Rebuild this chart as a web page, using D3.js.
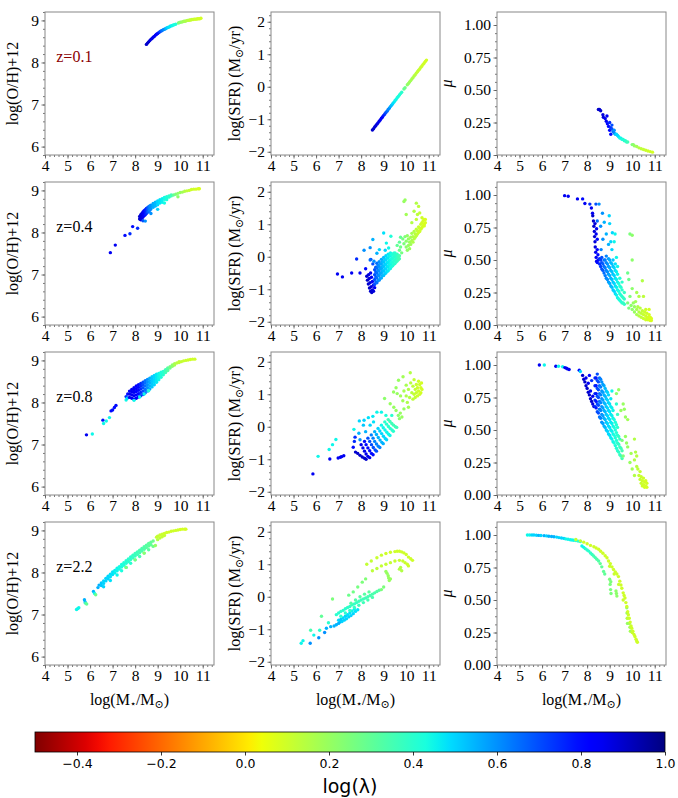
<!DOCTYPE html>
<html>
<head>
<meta charset="utf-8">
<script src="https://cdn.jsdelivr.net/npm/d3@7"></script>
<style>
  body { margin: 0; background: #fff; }
  svg text { font-family: "Liberation Serif", "Times New Roman", Times, "DejaVu Serif", serif !important; }
  svg text.sans { font-family: "DejaVu Sans", "Liberation Sans", sans-serif !important; }
</style>
</head>
<body>
<svg id="fig" width="678" height="798"></svg>
<script>
(function() {

  // ---------------------------BEGIN: data---------------------------//
  var massTicks = [4, 5, 6, 7, 8, 9, 10, 11];
  var ohTicks = [6, 7, 8, 9];
  var sfrTicks = [-2, -1, 0, 1, 2];
  var muTicks = [0, 0.25, 0.5, 0.75, 1.0];
  var lambdaTicks = [-0.4, -0.2, 0.0, 0.2, 0.4, 0.6, 0.8, 1.0];
  var zLabels = ["z=0.1", "z=0.4", "z=0.8", "z=2.2"];

  // each entry: [log M*, value (or list of values at that mass), log lambda]
  var ohZ01 = [
    [8.50,8.43,0.9],[8.55,8.46,0.9],[8.60,8.49,0.9],[8.65,8.52,0.88],[8.70,8.55,0.88],[8.75,8.57,0.86],
    [8.80,8.60,0.86],[8.85,8.62,0.85],[8.90,8.65,0.85],[8.95,8.67,0.82],[9.00,8.69,0.8],[9.05,8.71,0.78],
    [9.10,8.73,0.72],[9.15,8.75,0.68],[9.20,8.76,0.65],[9.25,8.78,0.62],[9.30,8.79,0.6],[9.35,8.80,0.56],
    [9.40,8.82,0.52],[9.45,8.83,0.5],[9.50,8.84,0.48],[9.55,8.86,0.47],[9.60,8.87,0.46],[9.65,8.88,0.45],
    [9.70,8.89,0.44],[9.75,8.90,0.43],[9.80,8.91,0.42],[9.92,8.94,0.26],[9.97,8.95,0.24],[10.02,8.96,0.22],
    [10.07,8.96,0.2],[10.12,8.97,0.19],[10.17,8.98,0.18],[10.22,8.98,0.17],[10.27,8.99,0.16],[10.32,9.00,0.15],
    [10.37,9.00,0.14],[10.42,9.01,0.13],[10.47,9.01,0.12],[10.52,9.02,0.12],[10.57,9.02,0.11],[10.62,9.03,0.11],
    [10.67,9.03,0.1],[10.72,9.03,0.1],[10.77,9.04,0.1],[10.82,9.04,0.09],[10.87,9.04,0.09],[10.92,9.05,0.09]
  ];
  var sfrZ01 = [
    [8.50,-1.33,0.9],[8.55,-1.29,0.9],[8.60,-1.24,0.9],[8.65,-1.20,0.88],[8.70,-1.15,0.88],[8.75,-1.11,0.86],
    [8.80,-1.06,0.86],[8.85,-1.02,0.85],[8.90,-0.97,0.84],[8.95,-0.93,0.82],[9.00,-0.88,0.78],[9.05,-0.84,0.74],
    [9.10,-0.79,0.7],[9.15,-0.75,0.66],[9.20,-0.70,0.62],[9.25,-0.66,0.6],[9.30,-0.61,0.56],[9.35,-0.57,0.53],
    [9.40,-0.52,0.5],[9.45,-0.48,0.48],[9.50,-0.43,0.46],[9.55,-0.39,0.45],[9.60,-0.34,0.44],[9.65,-0.30,0.43],
    [9.70,-0.25,0.42],[9.75,-0.21,0.41],[9.80,-0.17,0.4],[9.90,-0.07,0.3],[9.95,-0.03,0.27],[10.05,0.06,0.22],
    [10.10,0.10,0.2],[10.15,0.15,0.19],[10.20,0.19,0.18],[10.25,0.24,0.17],[10.30,0.28,0.16],[10.35,0.33,0.15],
    [10.40,0.37,0.14],[10.45,0.42,0.13],[10.50,0.46,0.12],[10.55,0.51,0.12],[10.60,0.55,0.11],[10.65,0.60,0.11],
    [10.70,0.64,0.1],[10.75,0.69,0.1],[10.80,0.73,0.1],[10.85,0.78,0.09],[10.90,0.82,0.09]
  ];
  var muZ01 = [
    [8.50,0.35,0.9],[8.55,0.35,0.9],[8.60,0.34,0.9],[8.70,0.31,0.88],[8.72,0.29,0.88],[8.80,0.28,0.85],
    [8.85,0.26,0.85],[8.88,0.30,0.85],[8.90,0.24,0.8],[8.95,0.22,0.8],[9.00,0.25,0.75],[9.00,0.19,0.8],
    [9.05,0.21,0.75],[9.05,0.16,0.8],[9.10,0.20,0.7],[9.10,0.23,0.7],[9.15,0.18,0.65],[9.20,0.19,0.6],
    [9.20,0.17,0.62],[9.25,0.16,0.55],[9.30,0.16,0.5],[9.35,0.15,0.5],[9.40,0.14,0.48],[9.45,0.13,0.45],
    [9.50,0.13,0.45],[9.55,0.12,0.42],[9.60,0.12,0.42],[9.65,0.11,0.4],[9.70,0.11,0.4],[9.75,0.10,0.38],
    [9.80,0.10,0.36],[10.00,0.08,0.25],[10.05,0.08,0.22],[10.10,0.07,0.2],[10.20,0.065,0.18],[10.30,0.055,0.15],
    [10.40,0.048,0.13],[10.50,0.042,0.12],[10.60,0.036,0.11],[10.70,0.031,0.1],[10.80,0.026,0.1],[10.90,0.022,0.09]
  ];

  var ohZ04 = [
    [6.90,7.52,0.85],[7.12,7.70,0.85],[7.55,7.93,0.8],[7.77,7.97,0.75],[7.89,8.14,0.8],[8.11,8.10,0.75],
    [8.20,[8.32,8.38],0.9],[8.25,[8.30,8.36,8.42],0.88],[8.30,[8.34,8.40,8.45],0.88],[8.35,[8.37,8.44,8.49],0.85],
    [8.35,8.28,0.7],[8.40,[8.40,8.47,8.52],0.82],[8.45,[8.42,8.50,8.54],0.78],[8.45,8.27,0.6],
    [8.50,[8.45,8.52,8.57],0.75],[8.55,[8.48,8.54,8.59],0.7],[8.60,[8.50,8.56,8.61],0.66],[8.65,[8.53,8.58,8.63],0.62],
    [8.70,[8.45,8.56,8.61,8.65],0.6],[8.80,[8.60,8.65,8.69],0.56],[8.90,[8.63,8.68,8.72],0.54],
    [9.00,[8.55,8.66,8.71,8.75],0.5],[9.10,[8.70,8.74,8.78],0.48],[9.20,[8.72,8.77,8.80],0.46],
    [9.30,[8.70,8.79,8.83],0.44],[9.40,[8.78,8.82,8.85],0.42],[9.50,[8.84,8.87],0.4],[9.60,[8.87,8.89],0.36],
    [9.70,8.89,0.3],[9.80,8.91,0.25],[9.90,[8.85,8.93],0.22],[10.00,8.95,0.2],[10.10,8.96,0.18],
    [10.20,8.98,0.15],[10.30,8.99,0.13],[10.40,9.00,0.12],[10.50,9.02,0.1],[10.60,9.03,0.1],
    [10.70,9.03,0.09],[10.80,9.04,0.08],[10.85,9.04,0.08]
  ];
  var sfrZ04 = [
    [6.95,-0.53,0.85],[7.17,-0.62,0.85],[7.58,-0.50,0.85],[7.80,-0.07,0.75],[7.95,-0.50,0.85],[8.13,0.20,0.6],
    [8.20,-0.37,0.8],[8.40,0.28,0.6],[8.52,0.53,0.55],[8.43,-0.08,0.7],[8.52,-0.22,0.7],[8.40,-0.10,0.65],
    [8.57,-0.14,0.6],[8.70,0.11,0.55],[8.81,0.22,0.5],[9.00,0.73,0.48],[9.07,0.20,0.5],[9.32,0.63,0.42],
    [9.12,0.42,0.45],[9.22,0.27,0.45],
    [8.25,-0.60,0.9],[8.28,-0.72,0.9],[8.32,-0.84,0.9],[8.37,-0.96,0.9],[8.42,-1.06,0.9],[8.47,-1.10,0.9],
    [8.33,-0.55,0.88],[8.36,-0.67,0.88],[8.40,-0.80,0.88],[8.45,-0.92,0.88],[8.50,-1.02,0.88],[8.55,-1.06,0.88],
    [8.42,-0.50,0.85],[8.46,-0.63,0.85],[8.50,-0.76,0.85],[8.55,-0.87,0.85],[8.60,-0.95,0.85],
    [8.60,[-0.85,-0.70,-0.55,-0.40],0.7],[8.65,[-0.78,-0.62,-0.47,-0.32],0.68],
    [8.70,[-0.80,-0.65,-0.50,-0.35,-0.20],0.65],[8.75,[-0.73,-0.57,-0.42,-0.27],0.62],
    [8.80,[-0.72,-0.58,-0.44,-0.30,-0.15],0.6],[8.85,[-0.66,-0.51,-0.37,-0.22],0.58],
    [8.90,[-0.65,-0.50,-0.36,-0.22,-0.08],0.56],[8.95,[-0.58,-0.44,-0.30,-0.15],0.55],
    [9.00,[-0.58,-0.44,-0.30,-0.16,-0.02],0.53],[9.05,[-0.52,-0.38,-0.24,-0.09],0.52],
    [9.10,[-0.50,-0.37,-0.24,-0.10,0.03],0.5],[9.15,[-0.45,-0.31,-0.18,-0.04],0.48],
    [9.20,[-0.43,-0.30,-0.17,-0.04,0.08],0.47],[9.25,[-0.38,-0.25,-0.12,0.02],0.46],
    [9.30,[-0.36,-0.23,-0.10,0.02,0.12],0.45],[9.35,[-0.30,-0.18,-0.06,0.07],0.43],
    [9.40,[-0.28,-0.16,-0.04,0.08],0.42],[9.45,[-0.23,-0.12,0.00,0.11],0.41],
    [9.50,[-0.21,-0.09,0.03,0.12],0.4],[9.55,[-0.16,-0.05,0.06],0.39],
    [9.60,[-0.13,-0.02,0.08],0.38],[9.65,[-0.09,0.01],0.36],[9.70,[-0.06,0.03],0.35],
    [9.60,0.35,0.3],[9.70,0.45,0.3],[9.75,0.60,0.3],
    [9.70,0.20,0.28],[9.75,0.30,0.27],[9.80,0.12,0.26],[9.85,0.55,0.26],[9.90,0.40,0.25],[9.95,0.62,0.24],
    [10.00,[0.30,0.48],0.22],[10.05,[0.20,0.65],0.21],[10.10,[0.35,0.55],0.2],[10.15,[0.25,0.45],0.19],
    [10.20,[0.38,0.60],0.18],[10.25,[0.50,0.72],0.17],[10.30,[0.45,0.62],0.16],[10.35,[0.55,0.78],0.15],
    [10.40,[0.60,0.70],0.14],[10.45,[0.65,0.85],0.13],[10.50,[0.70,0.80],0.12],[10.55,[0.75,0.92],0.11],
    [10.60,[0.78,0.88],0.1],[10.65,[0.85,1.00],0.1],[10.70,[0.90,1.05],0.09],[10.75,[0.95,1.10],0.09],
    [10.80,[0.95,1.00,1.15],0.08],[10.85,[1.05,1.15],0.08],
    [9.90,1.70,0.2],[9.95,1.75,0.2],[10.00,1.30,0.18],[10.45,1.65,0.15],[10.55,1.55,0.13],[10.35,1.40,0.15],
    [10.50,1.30,0.13],[10.60,1.35,0.12],[10.70,1.20,0.1],[10.45,1.15,0.12],[10.25,1.05,0.15]
  ];
  var muZ04 = [
    [7.00,0.995,0.85],[7.16,0.99,0.85],[7.57,0.97,0.85],[7.80,0.97,0.8],[7.90,0.935,0.85],[8.12,0.93,0.75],
    [8.19,0.90,0.85],[8.24,0.86,0.85],[8.39,0.93,0.7],[8.53,0.93,0.6],[8.68,0.86,0.6],[8.98,0.84,0.5],
    [8.76,0.79,0.55],[9.00,0.78,0.5],[9.12,0.71,0.5],[9.24,0.70,0.45],[9.05,0.64,0.5],[9.20,0.64,0.45],
    [8.45,0.80,0.65],[8.60,0.76,0.6],[8.85,0.70,0.55],[8.95,0.62,0.55],[9.10,0.58,0.5],[9.30,0.52,0.45],
    [8.70,0.66,0.6],[8.62,0.58,0.62],
    [8.25,0.84,0.9],[8.28,0.80,0.9],[8.30,0.76,0.9],[8.32,0.72,0.88],[8.33,0.68,0.9],[8.35,0.64,0.88],
    [8.36,0.60,0.88],[8.38,0.56,0.85],[8.40,0.52,0.85],[8.42,0.49,0.85],[8.40,0.70,0.85],[8.42,0.74,0.85],
    [8.45,0.66,0.8],[8.45,0.58,0.82],[8.48,0.54,0.8],[8.50,0.50,0.8],[8.35,0.78,0.88],[8.45,0.48,0.8],
    [8.55,[0.47,0.51],0.75],[8.65,[0.43,0.48,0.52],0.7],[8.75,[0.40,0.45,0.50],0.65],
    [8.85,[0.36,0.42,0.48,0.53],0.62],[8.95,[0.33,0.39,0.45,0.51],0.58],[9.05,[0.30,0.36,0.42,0.48],0.55],
    [9.15,[0.27,0.33,0.39,0.45,0.50],0.52],[9.25,[0.24,0.30,0.36,0.42,0.47],0.48],
    [9.35,[0.21,0.27,0.33,0.39,0.45],0.45],[9.45,[0.19,0.24,0.30,0.36],0.42],
    [9.55,[0.17,0.22,0.27,0.33],0.4],[9.65,[0.16,0.20,0.25],0.38],
    [8.60,[0.45,0.50],0.72],[8.70,[0.42,0.47],0.68],[8.80,[0.38,0.44,0.50],0.63],[8.90,[0.35,0.41,0.47],0.6],
    [9.00,[0.32,0.38,0.44,0.50],0.56],[9.10,[0.29,0.35,0.41,0.47],0.53],[9.20,[0.26,0.32,0.38,0.44],0.5],
    [9.30,[0.23,0.29,0.35,0.41],0.46],[9.40,[0.20,0.26,0.32],0.43],[9.50,[0.18,0.23,0.29],0.41],
    [9.60,[0.17,0.21],0.39],
    [9.90,0.70,0.25],[10.00,0.69,0.22],[10.00,0.50,0.22],[9.80,0.40,0.28],[9.85,0.35,0.28],[10.45,0.34,0.15],
    [10.50,0.22,0.13],[9.90,0.22,0.25],[9.80,0.17,0.25],[9.85,0.13,0.25],[9.95,0.15,0.22],[10.00,0.12,0.22],
    [10.05,0.17,0.2],[10.10,[0.10,0.14],0.2],[10.15,0.18,0.18],[10.20,[0.08,0.12],0.17],[10.25,0.14,0.16],
    [10.30,[0.07,0.10],0.15],[10.35,0.13,0.14],[10.40,[0.06,0.09],0.13],[10.45,0.11,0.12],[10.50,[0.05,0.08],0.11],
    [10.55,0.10,0.11],[10.60,[0.04,0.07,0.12],0.1],[10.65,[0.055,0.09],0.1],[10.70,[0.04,0.06],0.09],
    [10.75,[0.05,0.08,0.12],0.09],[10.80,[0.035,0.06],0.08],[10.85,[0.035,0.05],0.08],
    [10.20,0.25,0.17],[10.00,0.28,0.22],[10.30,0.22,0.15]
  ];

  var ohZ08 = [
    [5.84,7.23,0.85],[6.10,7.25,0.45],[6.57,7.58,0.8],[6.60,7.50,0.45],[6.72,7.56,0.45],[6.86,7.64,0.45],
    [6.93,7.80,0.8],[7.00,7.82,0.8],[7.08,7.88,0.8],[7.15,7.93,0.8],[7.60,8.14,0.75],[7.60,8.06,0.45],
    [7.65,8.10,0.5],[7.67,8.20,0.8],
    [7.75,[8.12,8.20,8.27],0.85],[7.85,[8.10,8.18,8.25,8.31],0.85],[7.95,[8.08,8.16,8.24,8.30,8.35],0.85],
    [8.05,[8.10,8.18,8.26,8.33,8.39],0.82],[8.15,[8.13,8.21,8.29,8.36,8.42],0.8],
    [8.25,[8.16,8.24,8.32,8.39,8.45],0.75],[8.35,[8.19,8.27,8.35,8.42,8.48],0.7],
    [8.45,[8.23,8.31,8.39,8.46,8.52],0.65],[8.55,[8.27,8.35,8.42,8.49,8.55],0.6],
    [8.65,[8.32,8.39,8.46,8.52,8.58],0.56],[8.75,[8.37,8.43,8.50,8.56,8.61],0.52],
    [8.85,[8.42,8.48,8.54,8.60,8.64],0.5],[8.95,[8.48,8.53,8.58,8.63,8.67],0.47],
    [9.05,[8.54,8.59,8.64,8.69],0.45],[9.15,[8.60,8.64,8.68,8.72],0.42],[9.25,[8.66,8.70,8.74],0.4],
    [9.35,[8.71,8.75,8.78],0.36],[9.45,[8.76,8.80,8.82],0.32],[9.55,[8.82,8.85],0.27],[9.65,[8.86,8.89],0.22],
    [9.75,[8.89,8.92],0.17],[9.85,8.94,0.14],[9.95,[8.95,8.97],0.13],[10.05,8.97,0.12],[10.15,8.99,0.11],
    [10.25,9.00,0.11],[10.35,9.01,0.1],[10.45,9.02,0.1],[10.55,9.03,0.1],[10.65,9.03,0.1],
    [7.95,8.05,0.45],[8.20,8.13,0.45],[8.40,8.20,0.45],[8.60,8.28,0.42]
  ];
  var sfrZ08 = [
    [5.86,-1.45,0.85],[6.09,-0.91,0.45],[6.61,-0.99,0.85],[6.58,-0.70,0.45],[6.73,-0.55,0.45],[6.88,-0.39,0.45],
    [6.98,-0.96,0.85],[7.08,-0.94,0.85],[7.13,-0.92,0.85],[7.23,-0.89,0.85],[7.68,-0.08,0.45],[7.65,-0.63,0.8],
    [7.73,-0.32,0.75],[7.70,-0.45,0.75],
    [7.75,-0.78,0.9],[7.85,-0.82,0.9],[7.95,-0.88,0.9],[8.05,-0.93,0.9],[8.15,-0.97,0.9],[8.22,-1.00,0.9],
    [8.00,-0.55,0.86],[8.08,-0.65,0.86],[8.15,-0.75,0.86],[8.22,-0.84,0.86],[8.30,-0.91,0.86],[8.38,-0.95,0.86],
    [8.15,-0.45,0.8],[8.22,-0.55,0.8],[8.30,-0.65,0.8],[8.38,-0.74,0.8],[8.46,-0.82,0.8],[8.53,-0.86,0.8],
    [8.30,-0.35,0.7],[8.38,-0.45,0.7],[8.46,-0.55,0.7],[8.54,-0.64,0.7],[8.62,-0.71,0.7],[8.68,-0.75,0.7],
    [8.45,-0.25,0.62],[8.53,-0.35,0.62],[8.60,-0.45,0.62],[8.68,-0.53,0.62],[8.76,-0.60,0.62],[8.83,-0.64,0.62],
    [8.60,-0.15,0.55],[8.68,-0.24,0.55],[8.76,-0.33,0.55],[8.84,-0.41,0.55],[8.92,-0.48,0.55],[8.98,-0.52,0.55],
    [8.75,-0.05,0.5],[8.83,-0.13,0.5],[8.91,-0.21,0.5],[8.99,-0.29,0.5],[9.07,-0.36,0.5],[9.13,-0.40,0.5],
    [8.90,0.05,0.45],[8.98,-0.03,0.45],[9.06,-0.10,0.45],[9.14,-0.17,0.45],[9.22,-0.23,0.45],[9.28,-0.27,0.45],
    [9.05,0.15,0.4],[9.13,0.08,0.4],[9.21,0.01,0.4],[9.29,-0.05,0.4],[9.37,-0.10,0.4],[9.43,-0.14,0.4],
    [9.20,0.22,0.36],[9.28,0.16,0.36],[9.36,0.10,0.36],[9.44,0.05,0.36],[9.52,0.00,0.36],[9.58,-0.02,0.36],
    [7.92,0.18,0.5],[8.13,0.20,0.5],[8.32,0.28,0.48],[8.52,0.32,0.47],[8.70,0.45,0.45],[8.90,0.45,0.45],
    [9.10,0.35,0.42],[9.36,0.35,0.4],[8.20,-0.15,0.55],[8.40,0.05,0.5],[8.55,0.15,0.48],[7.90,-0.20,0.55],
    [7.95,-0.40,0.6],[8.10,0.05,0.52],
    [9.04,0.87,0.22],[9.29,0.71,0.2],[9.45,0.60,0.2],[9.55,0.50,0.2],[9.65,0.35,0.22],[9.74,0.42,0.2],
    [9.81,0.30,0.2],[9.70,0.25,0.22],[9.66,1.43,0.2],[9.86,1.54,0.18],[10.18,1.66,0.15],[10.00,1.28,0.17],
    [9.60,1.02,0.2],[9.44,1.07,0.2],[9.55,1.20,0.2],[9.75,0.95,0.18],[9.85,0.80,0.18],[9.90,1.10,0.17],
    [10.00,0.95,0.16],[10.05,0.75,0.16],[10.10,1.15,0.15],[10.15,0.90,0.15],[10.20,1.35,0.14],[10.25,1.05,0.14],
    [10.30,[0.85,1.25],0.13],[10.35,[1.00,1.45],0.12],[10.40,[0.90,1.15],0.12],[10.45,[1.05,1.30],0.11],
    [10.50,[0.95,1.20],0.1],[10.55,[1.10,1.40],0.1],[10.60,[1.00,1.30],0.1],[10.65,[1.05,1.20],0.09],
    [10.68,1.35,0.09],[10.70,1.15,0.09],[9.90,0.55,0.2],[10.10,0.60,0.18]
  ];
  var muZ08 = [
    [5.88,1.0,0.85],[6.10,1.0,0.45],[6.61,0.99,0.85],[6.73,0.99,0.45],[6.91,0.987,0.45],[7.01,0.98,0.85],
    [7.08,0.975,0.85],[7.13,0.97,0.85],[7.20,0.965,0.85],[7.65,0.96,0.8],[7.70,0.95,0.5],
    [7.80,0.92,0.9],[7.85,0.89,0.9],[7.90,0.87,0.9],[7.95,0.84,0.9],[8.00,0.82,0.9],[8.05,0.79,0.9],
    [8.10,0.77,0.9],[8.15,0.74,0.9],[8.20,0.72,0.9],[8.25,0.70,0.88],[8.30,0.68,0.88],[7.95,0.90,0.85],
    [8.05,0.86,0.85],[8.15,0.80,0.85],[8.25,0.76,0.85],[8.10,0.92,0.8],[8.20,0.88,0.75],
    [8.35,[0.68,0.73,0.78,0.84,0.90],0.75],[8.45,[0.64,0.70,0.76,0.82,0.88,0.93],0.7],
    [8.55,[0.60,0.66,0.72,0.78,0.84,0.90],0.65],[8.65,[0.56,0.62,0.68,0.74,0.80,0.87],0.6],
    [8.75,[0.53,0.59,0.65,0.71,0.77,0.84],0.55],[8.85,[0.50,0.56,0.62,0.68,0.74,0.80],0.52],
    [8.95,[0.47,0.53,0.59,0.65,0.71,0.77],0.5],[9.05,[0.44,0.50,0.56,0.62,0.68,0.74],0.47],
    [9.15,[0.41,0.47,0.53,0.59,0.65],0.45],[9.25,[0.38,0.44,0.50,0.56],0.42],
    [9.35,[0.34,0.40,0.46,0.52],0.4],[9.45,[0.31,0.37,0.43],0.38],[9.55,[0.28,0.34],0.35],
    [8.40,[0.67,0.72,0.78,0.84,0.90],0.78],[8.50,[0.63,0.69,0.75,0.81,0.87],0.7],[8.60,[0.59,0.65,0.71,0.77,0.83,0.89],0.62],
    [8.70,[0.55,0.61,0.67,0.73,0.79,0.85],0.58],[8.80,[0.52,0.58,0.64,0.70,0.76,0.82],0.54],
    [8.90,[0.49,0.55,0.61,0.67,0.73,0.79],0.5],[9.00,[0.46,0.52,0.58,0.64,0.70],0.48],
    [9.10,[0.43,0.49,0.55,0.61,0.67],0.46],[9.20,[0.40,0.46,0.52,0.58],0.43],[9.30,[0.36,0.42,0.48,0.54],0.41],
    [9.40,[0.33,0.39,0.45],0.39],[9.50,[0.30,0.36],0.36],
    [9.10,0.80,0.45],[9.30,0.70,0.4],[9.35,0.62,0.38],
    [9.30,0.78,0.22],[9.40,0.81,0.2],[9.50,0.65,0.2],[9.60,0.70,0.2],[9.65,0.66,0.2],[9.70,0.60,0.2],
    [9.80,0.58,0.18],[9.70,0.45,0.2],[9.75,0.40,0.2],[9.80,0.37,0.2],[10.10,0.43,0.15],[10.15,0.33,0.15],
    [10.20,0.30,0.14],[9.90,0.25,0.2],[10.00,0.20,0.18],[10.10,0.15,0.15],[10.25,0.20,0.13],[10.30,0.15,0.12],
    [10.10,0.27,0.15],[10.20,0.22,0.14],[10.35,[0.12,0.18],0.12],[10.40,[0.09,0.14],0.11],[10.45,[0.07,0.11],0.1],
    [10.50,[0.08,0.13],0.1],[10.55,[0.06,0.10],0.09],[10.60,[0.07,0.11],0.09],[10.65,[0.06,0.09],0.09],
    [9.95,0.32,0.18],[9.60,0.30,0.25],[9.55,0.42,0.25]
  ];

  var ohZ22 = [
    [5.40,7.12,0.45],[5.45,7.14,0.45],[5.50,7.16,0.45],[5.75,7.35,0.55],[5.78,7.30,0.55],[5.80,7.27,0.35],
    [5.85,7.25,0.3],[6.15,7.55,0.55],[6.20,7.50,0.45],[6.25,7.47,0.28],[6.35,7.64,0.55],[6.40,7.70,0.55],
    [6.50,[7.75,7.69],0.52],[6.60,[7.80,7.74,7.66],0.5],[6.70,[7.86,7.80],0.5],[6.80,[7.91,7.85],0.5],
    [6.90,[7.96,7.90,7.81],0.48],[7.00,[8.01,7.95],0.48],[7.10,[8.05,7.99],0.46],[7.20,[8.10,8.04,7.94],0.45],
    [7.30,[8.14,8.08],0.44],[7.40,[8.19,8.13,8.04],0.43],[7.50,[8.23,8.17],0.42],[7.60,[8.28,8.22,8.12],0.41],
    [7.70,[8.32,8.26],0.4],[7.80,[8.37,8.31,8.22],0.4],[7.90,[8.41,8.35],0.38],[8.00,[8.45,8.39,8.30],0.37],
    [8.10,[8.49,8.43],0.36],[8.20,[8.53,8.47,8.38],0.35],[8.30,[8.57,8.51],0.34],[8.40,[8.61,8.55,8.46],0.33],
    [8.50,[8.65,8.59],0.32],[8.60,[8.69,8.63,8.54],0.31],[8.70,[8.72,8.66],0.3],[8.80,[8.75,8.62],0.28],
    [7.60,8.12,0.25],[8.00,8.30,0.25],[8.40,8.46,0.22],[8.90,8.64,0.2],[9.00,8.78,0.15],[9.10,8.82,0.13],
    [9.20,8.85,0.12],[9.30,8.88,0.12],
    [8.95,8.84,0.12],[9.00,8.86,0.12],[9.10,8.89,0.11],[9.20,8.91,0.11],[9.30,8.93,0.1],[9.40,8.95,0.1],
    [9.50,8.96,0.1],[9.60,8.98,0.1],[9.70,8.99,0.1],[9.80,9.00,0.1],[9.90,9.01,0.1],[10.00,9.02,0.09],
    [10.10,9.03,0.09],[10.20,9.03,0.09],[10.25,9.03,0.09]
  ];
  var sfrZ22 = [
    [5.34,-1.43,0.45],[5.42,-1.35,0.45],[5.74,-1.43,0.6],[5.76,-1.03,0.35],[5.90,-1.18,0.45],[6.12,-1.26,0.6],
    [6.16,-1.03,0.4],[6.24,-0.60,0.3],[6.38,-1.10,0.6],[6.46,-0.97,0.55],[6.65,-0.92,0.55],[6.73,-0.07,0.25],
    [6.55,-0.80,0.4],
    [6.80,-0.90,0.55],[6.90,-0.86,0.55],[7.00,-0.82,0.55],[7.06,-0.78,0.55],[7.15,-0.76,0.5],[7.25,-0.72,0.5],
    [7.35,-0.68,0.5],[7.45,-0.62,0.5],[7.55,-0.58,0.5],[7.65,-0.52,0.5],[7.75,-0.45,0.48],[7.85,-0.40,0.48],
    [7.00,-0.72,0.5],[7.20,-0.65,0.5],[7.40,-0.55,0.48],[7.10,-0.70,0.52],[7.30,-0.60,0.5],[7.50,-0.50,0.48],
    [7.60,-0.44,0.46],[7.70,-0.38,0.46],
    [6.90,-0.55,0.4],[7.00,-0.50,0.4],[7.10,[-0.45,-0.60],0.4],[7.20,-0.42,0.4],[7.30,[-0.37,-0.50],0.4],
    [7.40,-0.33,0.39],[7.50,[-0.30,-0.42],0.39],[7.60,-0.25,0.38],[7.70,[-0.22,-0.33],0.38],[7.80,-0.18,0.38],
    [7.90,[-0.14,-0.26],0.37],[8.00,-0.10,0.37],[8.10,[-0.07,-0.18],0.36],[8.20,-0.04,0.36],
    [8.30,[0.00,-0.10],0.35],[8.40,0.04,0.35],[8.50,[0.08,-0.02],0.34],[8.60,0.12,0.34],[8.70,0.16,0.33],
    [8.80,0.20,0.32],[7.55,-0.20,0.33],[7.75,-0.10,0.33],[7.95,0.00,0.32],[8.15,0.08,0.32],[8.35,0.15,0.31],
    [7.45,0.05,0.28],[7.65,0.15,0.27],[7.85,0.30,0.26],[8.05,0.45,0.25],[8.20,0.55,0.24],[8.90,0.22,0.25],
    [9.00,0.30,0.25],[9.10,0.78,0.2],[9.15,0.72,0.2],[9.20,0.65,0.2],[9.22,0.58,0.2],[9.25,0.50,0.2],
    [9.30,0.55,0.2],
    [8.25,1.00,0.12],[8.45,1.10,0.12],[8.70,1.20,0.11],[8.90,1.28,0.11],[9.10,1.33,0.1],[9.30,1.37,0.1],
    [9.50,1.39,0.1],[9.60,1.40,0.1],[9.70,1.40,0.1],[9.80,1.38,0.1],[9.90,1.35,0.1],[10.00,1.30,0.1],
    [10.10,1.22,0.1],[10.20,1.17,0.1],[10.28,1.12,0.1],
    [8.50,0.80,0.13],[8.70,0.87,0.13],[8.90,0.95,0.12],[9.10,1.00,0.12],[9.30,1.05,0.12],[9.50,1.10,0.11],
    [9.70,1.12,0.11],[9.85,1.10,0.11],[9.95,1.05,0.11],[10.05,1.00,0.1],[10.10,0.95,0.1],
    [9.70,0.85,0.15],[9.75,0.90,0.15],[9.80,0.80,0.15]
  ];
  var muZ22 = [
    [5.35,1.0,0.45],[5.45,1.0,0.45],[5.55,1.0,0.5],[5.64,1.0,0.5],[5.75,0.998,0.5],[5.85,0.997,0.55],
    [5.95,0.996,0.5],[6.09,0.995,0.55],[6.20,0.993,0.5],[6.30,0.99,0.55],[6.42,0.989,0.55],[6.53,0.987,0.55],
    [6.65,0.984,0.5],[6.75,0.98,0.5],[6.86,0.977,0.5],[6.97,0.974,0.5],[7.05,0.97,0.45],[7.15,0.967,0.45],
    [7.25,0.964,0.45],[7.33,0.962,0.45],[7.41,0.96,0.45],[7.50,0.957,0.4],[7.60,0.953,0.4],[7.70,0.95,0.4],
    [7.77,0.915,0.45],[7.85,0.905,0.45],[7.92,0.895,0.4],[8.00,0.885,0.4],[8.07,0.876,0.4],[8.15,0.862,0.38],
    [8.22,0.85,0.38],[8.29,0.838,0.35],[8.36,0.826,0.35],[8.43,0.814,0.33],[8.51,0.80,0.33],[8.58,0.78,0.3],
    [8.65,0.755,0.3],[8.73,0.72,0.3],[8.78,0.70,0.3],
    [9.00,0.66,0.25],[9.02,0.62,0.25],[9.04,0.58,0.25],[9.06,0.55,0.25],[9.05,0.64,0.25],[9.28,0.57,0.22],
    [9.30,0.55,0.22],[9.32,0.53,0.22],[9.76,0.44,0.2],[9.77,0.40,0.2],[9.78,0.36,0.2],[9.79,0.32,0.2],
    [9.88,0.32,0.18],[9.90,0.29,0.18],[9.92,0.26,0.18],
    [7.50,0.965,0.12],[7.70,0.955,0.12],[7.85,0.945,0.1],[8.00,0.933,0.1],[8.15,0.92,0.1],[8.30,0.91,0.1],
    [8.40,0.90,0.1],[8.51,0.89,0.1],[8.60,0.875,0.1],[8.70,0.86,0.1],[8.80,0.84,0.1],[8.88,0.825,0.1],
    [8.95,0.80,0.1],[9.03,0.78,0.1],[9.10,0.755,0.1],[9.17,0.735,0.1],[9.25,0.715,0.1],[9.32,0.70,0.1],
    [9.39,0.68,0.1],[9.45,0.645,0.1],[9.50,0.615,0.1],[9.54,0.59,0.1],[9.60,0.555,0.1],[9.64,0.535,0.1],
    [9.68,0.515,0.1],[9.72,0.48,0.1],[9.76,0.45,0.1],[9.80,0.41,0.1],[9.83,0.387,0.1],[9.87,0.36,0.1],
    [9.91,0.33,0.1],[9.95,0.30,0.1],[9.98,0.283,0.1],[10.03,0.26,0.1],[10.08,0.235,0.1],[10.12,0.219,0.1],
    [10.17,0.198,0.1],[10.20,0.185,0.1],[10.23,0.175,0.1],
    [9.00,0.76,0.11],[9.20,0.70,0.11],[9.40,0.62,0.11],[9.60,0.50,0.11],[9.80,0.36,0.11],[10.00,0.25,0.11]
  ];
  // ---------------------------END: data---------------------------//

  var panelData = [
    [ohZ01, sfrZ01, muZ01],
    [ohZ04, sfrZ04, muZ04],
    [ohZ08, sfrZ08, muZ08],
    [ohZ22, sfrZ22, muZ22]
  ];

  var SERIF = "'Liberation Serif', 'Times New Roman', Times, 'DejaVu Serif', serif";
  var SANS = "'DejaVu Sans', 'Liberation Sans', sans-serif";

  var svg = d3.select("#fig");
  var colX = [45, 271, 497], rowY = [12, 182, 352, 522];
  var pw = 169, ph = 143;

  var x = d3.scaleLinear().domain([4, 11.5]).range([0, pw]);
  var cols = [
    { y: d3.scaleLinear().domain([5.8, 9.2]).range([ph, 0]), ticks: ohTicks, minor: d3.range(5.8, 9.21, 0.2), fmt: d3.format("d"), lx: 27 },
    { y: d3.scaleLinear().domain([-2.1, 2.3]).range([ph, 0]), ticks: sfrTicks, minor: d3.range(-2.0, 2.31, 0.2), fmt: d3.format("d"), lx: 31 },
    { y: d3.scaleLinear().domain([0, 1.1]).range([ph, 0]), ticks: muTicks, minor: d3.range(0, 1.1, 0.0625), fmt: d3.format(".2f"), lx: 45 }
  ];

  // jet colormap (matplotlib segment data), used reversed
  var jetR = d3.scaleLinear().domain([0, 0.35, 0.66, 0.89, 1]).range([0, 0, 1, 1, 0.5]).clamp(true);
  var jetG = d3.scaleLinear().domain([0, 0.125, 0.375, 0.64, 0.91, 1]).range([0, 0, 1, 1, 0, 0]).clamp(true);
  var jetB = d3.scaleLinear().domain([0, 0.11, 0.34, 0.65, 1]).range([0.5, 1, 1, 0, 0]).clamp(true);
  var lam = d3.scaleLinear().domain([-0.5, 1.0]).range([1, 0]).clamp(true);
  function colour(v) {
    var t = lam(v);
    return d3.rgb(jetR(t) * 255, jetG(t) * 255, jetB(t) * 255).toString();
  }

  function flatten(rows) {
    var out = [];
    rows.forEach(function(r) {
      var ys = Array.isArray(r[1]) ? r[1] : [r[1]];
      ys.forEach(function(v) { out.push([r[0], v, r[2]]); });
    });
    return out;
  }

  function styleAxis(g, size) {
    g.attr("font-family", SERIF);
    g.select(".domain").remove();
    g.selectAll("line").attr("stroke", "#555").attr("stroke-width", 0.8);
    g.selectAll("text").attr("font-family", SERIF).attr("font-size", size).attr("fill", "#000");
  }

  rowY.forEach(function(ry, ri) {
    cols.forEach(function(c, ci) {
      var g = svg.append("g").attr("transform", "translate(" + colX[ci] + "," + ry + ")")
        .attr("font-family", SERIF);

      g.append("g").attr("transform", "translate(0," + ph + ")")
        .call(d3.axisBottom(x).tickValues(d3.range(4, 11.51, 0.2)).tickSize(2).tickFormat(""))
        .call(styleAxis, 15.5);
      g.append("g").attr("transform", "translate(0," + ph + ")")
        .call(d3.axisBottom(x).tickValues(massTicks).tickSize(3.5).tickPadding(1).tickFormat(d3.format("d")))
        .call(styleAxis, 15.5);
      g.append("g")
        .call(d3.axisLeft(c.y).tickValues(c.minor).tickSize(2).tickFormat(""))
        .call(styleAxis, 15.5);
      g.append("g")
        .call(d3.axisLeft(c.y).tickValues(c.ticks).tickSize(3.5).tickPadding(2.5).tickFormat(c.fmt))
        .call(styleAxis, 15.5);

      g.append("g").selectAll("circle")
        .data(flatten(panelData[ri][ci]))
        .join("circle")
        .attr("cx", function(d) { return x(d[0]); })
        .attr("cy", function(d) { return c.y(d[1]); })
        .attr("r", 1.7)
        .attr("fill", function(d) { return colour(d[2]); });

      g.append("rect").attr("width", pw).attr("height", ph)
        .attr("fill", "none").attr("stroke", "#888").attr("stroke-width", 1);

      // y label
      var yl = g.append("text")
        .attr("transform", "translate(" + (-c.lx) + "," + (ph / 2) + ") rotate(-90)")
        .attr("text-anchor", "middle").attr("font-size", 16).attr("font-family", SERIF);
      if (ci === 0) {
        yl.text("log(O/H)+12");
      } else if (ci === 1) {
        yl.append("tspan").text("log(SFR) (M");
        yl.append("tspan").attr("font-size", 11).attr("dy", 3).text("\u2299");
        yl.append("tspan").attr("dy", -3).text("/yr)");
      } else {
        yl.attr("font-style", "italic").text("\u03bc");
      }

      if (ci === 0) {
        g.append("text").attr("x", x(4.5)).attr("y", c.y(8.0))
          .attr("font-size", 16).attr("font-family", SERIF)
          .attr("fill", ri === 0 ? "#8b0000" : "#000")
          .text(zLabels[ri]);
      }

      if (ri === rowY.length - 1) {
        var xl = g.append("text").attr("x", pw / 2).attr("y", ph + 40)
          .attr("text-anchor", "middle").attr("font-size", 16).attr("font-family", SERIF);
        xl.append("tspan").text("log(M");
        xl.append("tspan").attr("font-size", 10).attr("dy", 2).text("\u22c6");
        xl.append("tspan").attr("dy", -2).text("/M");
        xl.append("tspan").attr("font-size", 11).attr("dy", 3).text("\u2299");
        xl.append("tspan").attr("dy", -3).text(")");
      }
    });
  });

  // ---------------------------colour bar---------------------------//
  var cb = d3.scaleLinear().domain([-0.5, 1.0]).range([35, 665]);
  var cbY = 732, cbH = 20;
  var grad = svg.append("defs").append("linearGradient").attr("id", "jetgrad");
  d3.range(0, 1.0001, 0.02).forEach(function(f) {
    grad.append("stop").attr("offset", f).attr("stop-color", colour(-0.5 + 1.5 * f));
  });
  svg.append("rect").attr("x", cb(-0.5)).attr("y", cbY)
    .attr("width", cb(1.0) - cb(-0.5)).attr("height", cbH)
    .attr("fill", "url(#jetgrad)").attr("stroke", "#000").attr("stroke-width", 0.8);
  var cbAxis = svg.append("g").attr("transform", "translate(0," + (cbY + cbH) + ")")
    .call(d3.axisBottom(cb).tickValues(lambdaTicks).tickSize(3.5).tickPadding(4).tickFormat(d3.format(".1f")));
  cbAxis.select(".domain").remove();
  cbAxis.selectAll("line").attr("stroke", "#000").attr("stroke-width", 0.8);
  cbAxis.selectAll("text").classed("sans", true).attr("font-family", SANS).attr("font-size", 12.5).attr("fill", "#000");
  svg.append("text").attr("class", "sans").attr("x", cb(0.25)).attr("y", 793)
    .attr("text-anchor", "middle").attr("font-family", SANS).attr("font-size", 19)
    .text("log(\u03bb)");

}());
</script>
</body>
</html>
